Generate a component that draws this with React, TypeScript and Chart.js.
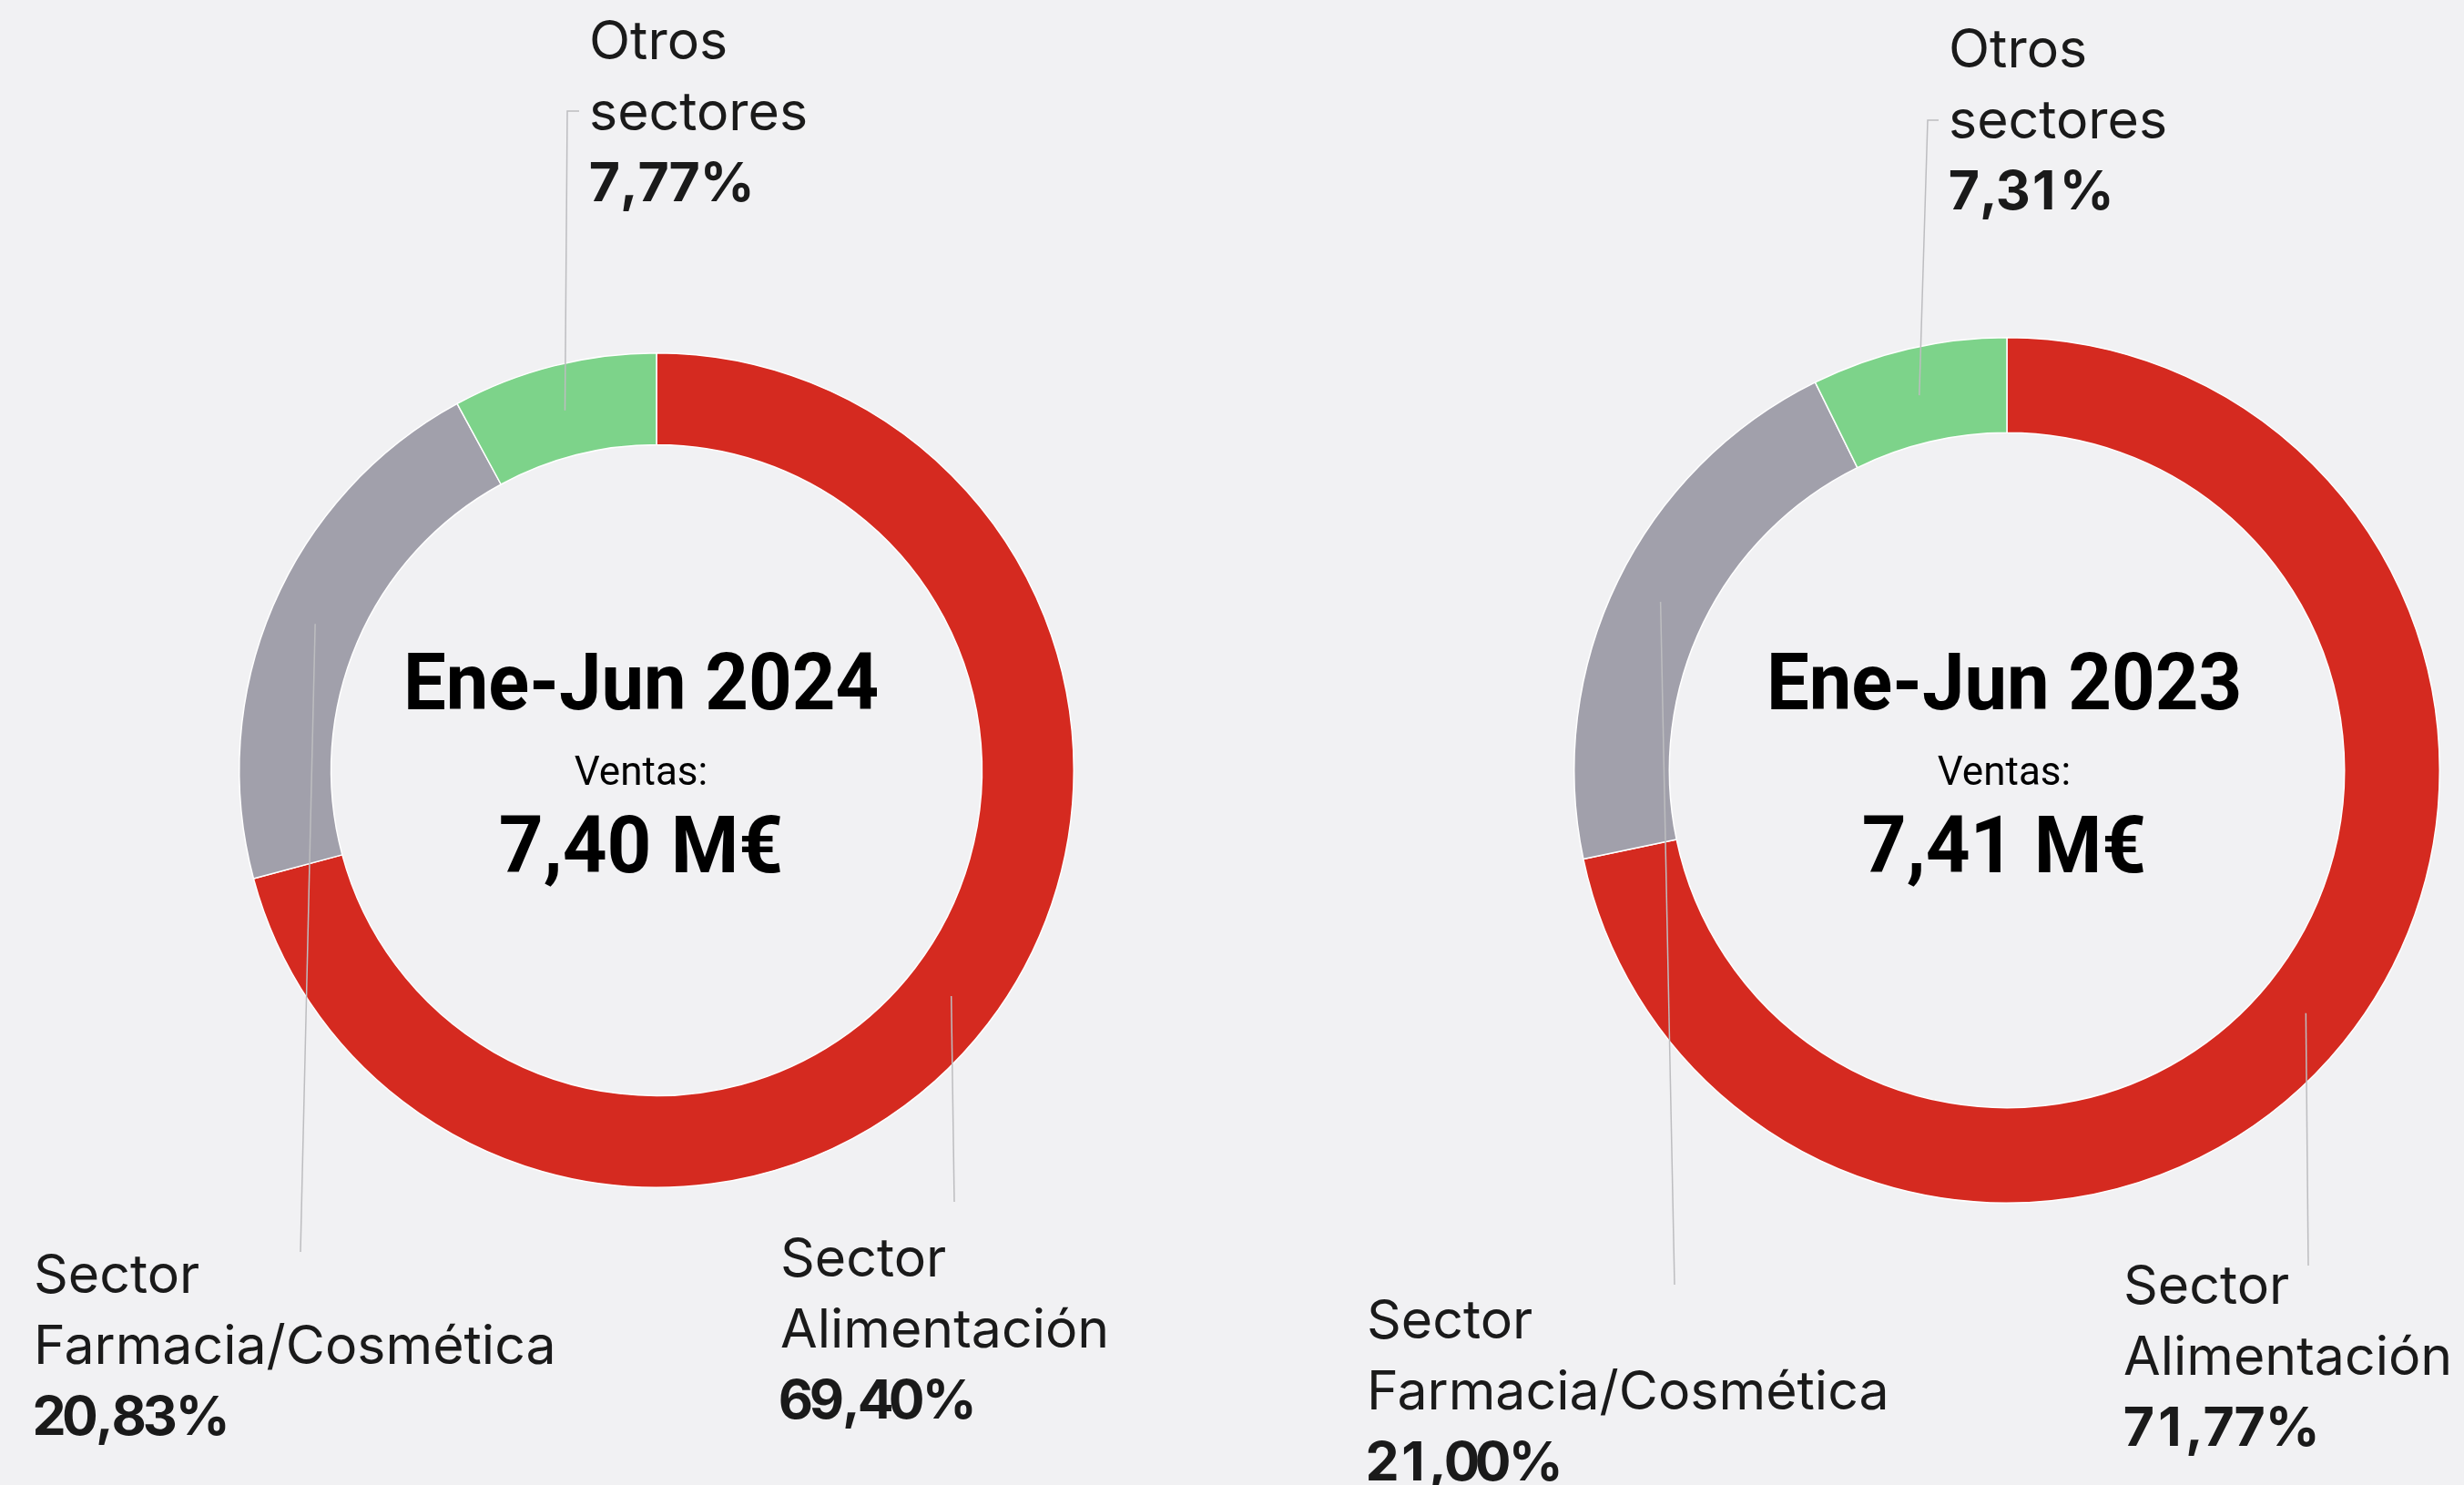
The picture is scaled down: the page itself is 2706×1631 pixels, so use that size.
import React, { useEffect, useRef } from "react";
import { Chart, registerables } from "chart.js";

Chart.register(...registerables);

// ---- Data ----
const categories = ["Sector Alimentación", "Sector Farmacia/Cosmética", "Otros sectores"];
const categoryLines = [["Sector", "Alimentación"], ["Sector", "Farmacia/Cosmética"], ["Otros", "sectores"]];
const values2024 = [69.4, 20.83, 7.77];
const values2023 = [71.77, 21.0, 7.31];
const pctLabels2024 = ["69,40%", "20,83%", "7,77%"];
const pctLabels2023 = ["71,77%", "21,00%", "7,31%"];
const periodTitles = ["Ene-Jun 2024", "Ene-Jun 2023"];
const salesCaption = "Ventas:";
const salesValues = ["7,40 M€", "7,41 M€"];
const sliceColors = ["#d52a20", "#a1a0ab", "#7dd38a"];

const BG = "#f1f1f3";
const W = 2706;
const H = 1631;
const HALF = 1353;

type LabelPos = { x: number; y: number; lx: number; ly: number; tick?: number };

type PanelCfg = {
  values: number[];
  pcts: string[];
  title: string;
  sales: string;
  padding: { left: number; right: number; top: number; bottom: number };
  textDx: number;
  labels: LabelPos[];
};

const panels: PanelCfg[] = [
  {
    values: values2024,
    pcts: pctLabels2024,
    title: periodTitles[0],
    sales: salesValues[0],
    padding: { left: 262, right: 173, top: 387, bottom: 326 },
    textDx: -17,
    labels: [
      { x: 857, y: 1402, lx: 1048, ly: 1320 },
      { x: 37, y: 1420, lx: 330, ly: 1375 },
      { x: 647, y: 65, lx: 623, ly: 122, tick: 636 },
    ],
  },
  {
    values: values2023,
    pcts: pctLabels2023,
    title: periodTitles[1],
    sales: salesValues[1],
    padding: { left: 375, right: 26, top: 370, bottom: 309 },
    textDx: -3,
    labels: [
      { x: 979, y: 1432, lx: 1182, ly: 1390 },
      { x: 148, y: 1470, lx: 486, ly: 1411 },
      { x: 787, y: 74, lx: 764, ly: 132, tick: 776 },
    ],
  },
];

// draw text with tabular (fixed-width) digits
function fillTabular(ctx: CanvasRenderingContext2D, text: string, x: number, y: number, digitW: number) {
  let cx = x;
  for (const ch of text) {
    const w = ctx.measureText(ch).width;
    if (/[0-9]/.test(ch)) {
      ctx.fillText(ch, cx + (digitW - w) / 2, y);
      cx += digitW;
    } else {
      ctx.fillText(ch, cx, y);
      cx += w;
    }
  }
}

function fillScaled(ctx: CanvasRenderingContext2D, text: string, x: number, y: number, sx: number) {
  ctx.save();
  ctx.translate(x, y);
  ctx.scale(sx, 1);
  ctx.fillText(text, 0, 0);
  ctx.restore();
}

function makeAnnotPlugin(cfg: PanelCfg) {
  return {
    id: "annot",
    afterDraw(chart: any) {
      const ctx: CanvasRenderingContext2D = chart.ctx;
      const meta = chart.getDatasetMeta(0);
      const { left, right, top, bottom } = chart.chartArea;
      const cx = (left + right) / 2;
      ctx.save();
      meta.data.forEach((arc: any, i: number) => {
        const p = arc.tooltipPosition(false);
        const L = cfg.labels[i];
        ctx.strokeStyle = "#bdbdc0";
        ctx.lineWidth = 1.5;
        ctx.beginPath();
        ctx.moveTo(p.x, p.y);
        ctx.lineTo(L.lx, L.ly);
        if (L.tick !== undefined) ctx.lineTo(L.tick, L.ly);
        ctx.stroke();

        ctx.fillStyle = "#1a1a1a";
        ctx.textAlign = "left";
        ctx.textBaseline = "alphabetic";
        ctx.font = "400 59px Inter";
        categoryLines[i].forEach((t, j) => ctx.fillText(t, L.x, L.y + j * 78));
        ctx.font = "700 59px Inter";
        fillTabular(ctx, cfg.pcts[i], L.x, L.y + 2 * 78, 34);
      });

      const tx = cx + cfg.textDx;
      ctx.fillStyle = "#000000";
      ctx.textAlign = "center";
      ctx.font = "700 88px Roboto";
      fillScaled(ctx, cfg.title, tx, 779, 0.945);
      ctx.font = "400 44px Roboto";
      fillScaled(ctx, salesCaption, tx, 862, 1.0);
      ctx.font = "700 87px Roboto";
      fillScaled(ctx, cfg.sales, tx, 958, 0.98);
      ctx.restore();
    },
  };
}

function DonutPanel({ cfg, offsetX }: { cfg: PanelCfg; offsetX: number }) {
  const ref = useRef<HTMLCanvasElement | null>(null);
  useEffect(() => {
    if (!ref.current) return;
    const chart = new Chart(ref.current, {
      type: "doughnut",
      data: {
        labels: categories,
        datasets: [
          {
            data: cfg.values,
            backgroundColor: sliceColors,
            borderColor: "#ffffff",
            borderWidth: 1.5,
          },
        ],
      },
      options: {
        responsive: false,
        maintainAspectRatio: false,
        devicePixelRatio: 1,
        animation: false,
        cutout: "78%",
        rotation: 0,
        layout: { padding: cfg.padding },
        plugins: {
          legend: { display: false },
          tooltip: { enabled: false },
        },
      },
      plugins: [makeAnnotPlugin(cfg)],
    });
    return () => chart.destroy();
  }, [cfg]);
  return (
    <canvas
      ref={ref}
      width={HALF}
      height={H}
      style={{ position: "absolute", left: offsetX, top: 0, width: HALF, height: H }}
    />
  );
}

export default function App() {
  useEffect(() => {
    document.body.style.margin = "0";
    document.body.style.background = BG;
  }, []);
  return (
    <div style={{ position: "relative", width: W, height: H, background: BG, overflow: "hidden" }}>
      <DonutPanel cfg={panels[0]} offsetX={0} />
      <DonutPanel cfg={panels[1]} offsetX={HALF} />
    </div>
  );
}
